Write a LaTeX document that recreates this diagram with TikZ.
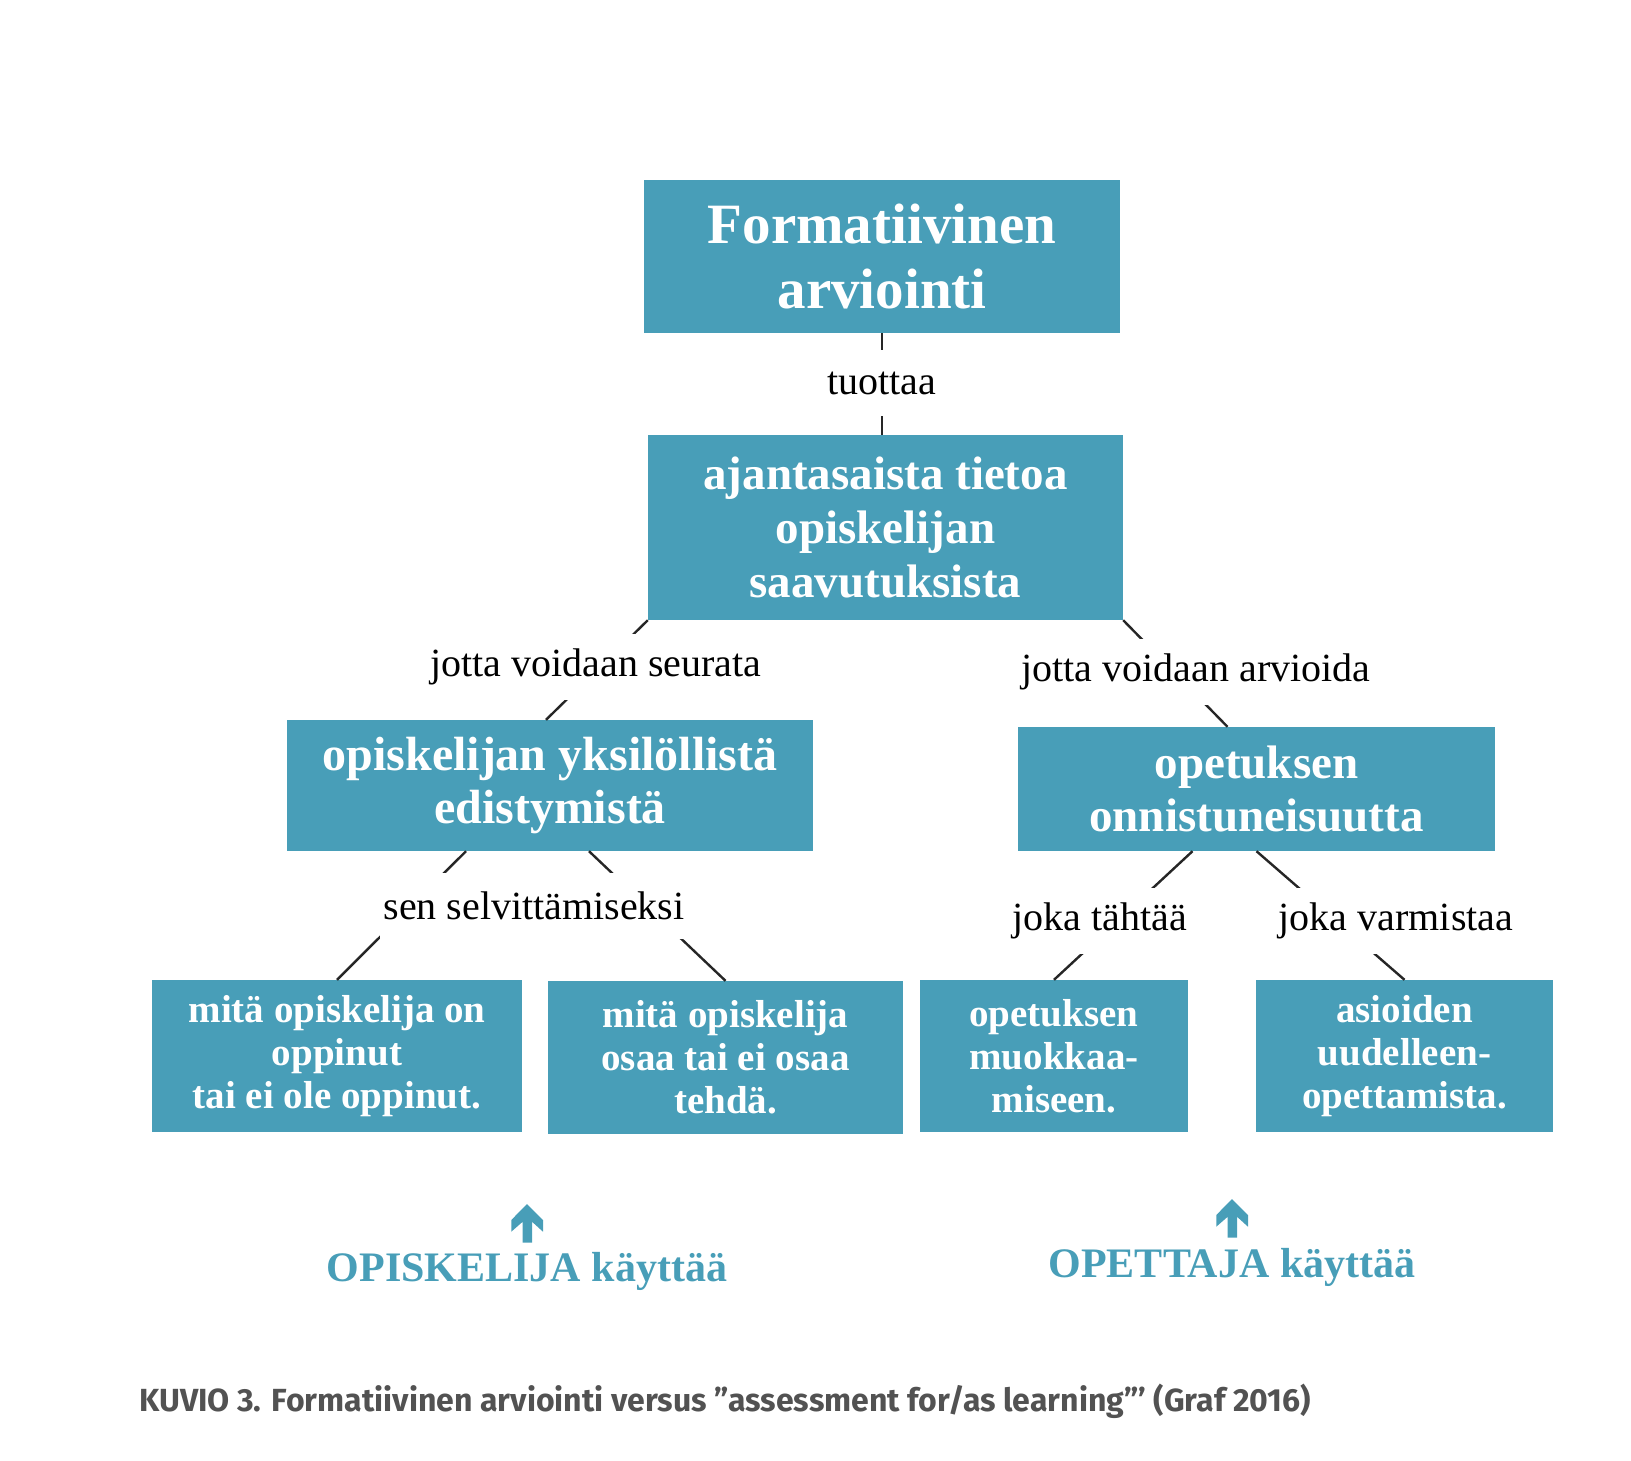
\documentclass[tikz,border=0pt]{standalone}
\usepackage{fontspec}
\setmainfont{Liberation Serif}
\newfontfamily\capfont{Fira Sans}
\usepackage{xcolor}
\usepackage{tikz}
\definecolor{boxteal}{RGB}{72,158,184}

\begin{document}
\begin{tikzpicture}[x=1pt, y=-1pt,
    box/.style n args={2}{fill=boxteal, text=white, align=center, inner sep=0pt, font=\bfseries\fontsize{#1}{#2}\selectfont},
    link/.style={line width=2.4pt, black!85},
    word/.style={fill=white, inner xsep=3pt, inner ysep=0pt, minimum height=66pt, font=\fontsize{40}{48}\selectfont},
    user/.style={text=boxteal, font=\bfseries\fontsize{42}{50}\selectfont}]
    \useasboundingbox (0,0) rectangle (1631,1460);

    \node[box={57}{65}, minimum width=476, minimum height=153] (b1) at (882,256.5) {Formatiivinen\\arviointi};
    \node[box={47}{54}, minimum width=475, minimum height=185] (b2) at (885.5,527.5) {ajantasaista tietoa\\opiskelijan\\saavutuksista};
    \node[box={48}{53}, minimum width=526, minimum height=131] (b3) at (550,785.5) {opiskelijan yksilöllistä\\edistymistä};
    \node[box={47}{53}, minimum width=477, minimum height=124] (b4) at (1256.5,789) {opetuksen\\onnistuneisuutta};
    \node[box={39}{43}, minimum width=370, minimum height=152] (b5) at (337,1056) {mitä opiskelija on\\oppinut\\tai ei ole oppinut.};
    \node[box={39}{43}, minimum width=355, minimum height=153] (b6) at (725.5,1057.5) {mitä opiskelija\\osaa tai ei osaa\\tehdä.};
    \node[box={39}{43}, minimum width=268, minimum height=152] (b7) at (1054,1056) {opetuksen\\muokkaa-\\miseen.};
    \node[box={39}{43}, minimum width=297, minimum height=152] (b8) at (1404.5,1056) {asioiden\\uudelleen-\\opettamista.};

    \draw[link] (b1.south) -- (b1.south |- b2.north);
    \draw[link] (b2.south west) -- ([xshift=-4pt]b3.north);
    \draw[link] (b2.south east) -- ([xshift=-29pt]b4.north);
    \draw[link] ([xshift=-84pt]b3.south) -- (b5.north);
    \draw[link] ([xshift=39pt]b3.south) -- (b6.north);
    \draw[link] ([xshift=-64pt]b4.south) -- (b7.north);
    \draw[link] (b4.south) -- (b8.north);

    \node[word] (l1) at (882,383) {tuottaa};
    \node[word] (l2) at (596,667) {jotta voidaan seurata};
    \node[word] (l3) at (1196,672) {jotta voidaan arvioida};
    \node[word] (l4) at (534,906) {sen selvittämiseksi};
    \node[word] (l5) at (1100,921) {joka tähtää};
    \node[word] (l6) at (1396,921) {joka varmistaa};

    \foreach \x/\y in {527/1204, 1232/1199}
        \fill[boxteal] (\x,\y) -- ++(16,16) -- ++(0,11.7) -- ++(-11,-10) -- ++(0,21) -- ++(-9.3,0) -- ++(0,-21) -- ++(-11.4,10) -- ++(0,-11.7) -- cycle;
    \node[user] (u1) at (527,1271) {OPISKELIJA käyttää};
    \node[user] (u2) at (1232,1267) {OPETTAJA käyttää};

    \node[anchor=west, inner sep=0pt, text=black!68, font=\capfont\bfseries\fontsize{32}{38}\selectfont] (cap) at (139,1401) {KUVIO 3. Formatiivinen arviointi versus ”assessment for/as learning”’ (Graf 2016)};
\end{tikzpicture}
\end{document}
